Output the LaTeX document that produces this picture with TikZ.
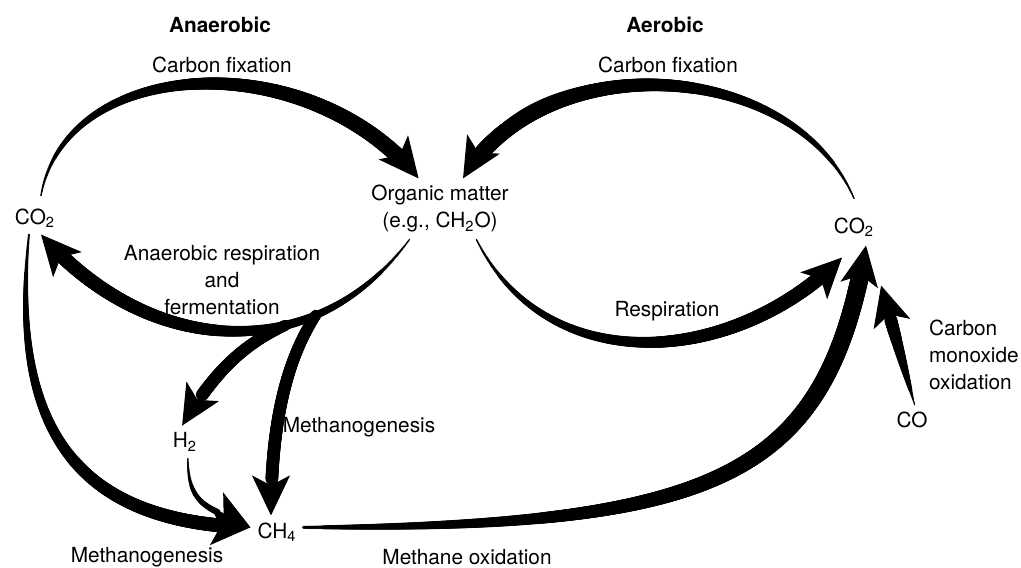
\documentclass[tikz,border=0pt]{standalone}
\usepackage{fontspec}
\setmainfont{TeX Gyre Heros}
\usetikzlibrary{arrows.meta,decorations.markings}

\tikzset{
  lbl/.style={font=\fontsize{10.4}{13.5}\selectfont, align=center},
  head/.style={font=\fontsize{10.4}{13.5}\selectfont\bfseries},
  flow/.style 2 args={
    line width=0.5pt,
    -{Stealth[length=20pt,width=19pt,inset=5pt]},
    postaction={decorate, decoration={markings,
      mark=between positions 0 and 1 step 0.5pt with {
        \pgfmathsetmacro\flowd{\pgfkeysvalueof{/pgf/decoration/mark info/distance from start}}
        \pgfmathsetmacro\flowl{\pgfdecoratedpathlength}
        \pgfmathsetmacro\flowf{\flowd/\flowl}
        \pgfmathsetmacro\flowr{#1+(#2-#1)*(1-(1-\flowf)^2)}
        \pgfmathparse{\flowl-\flowd>18 ? 1 : 0}
        \ifnum\pgfmathresult=1 \fill (0,0) circle (\flowr pt);\fi}}}
  }
}

\begin{document}
\begin{tikzpicture}[x=0.5pt,y=0.5pt]
    \useasboundingbox (0,0) rectangle (1021,567);

    % Headings
    \node[head] (anaer) at (220,542) {Anaerobic};
    \node[head] (aer) at (665,542) {Aerobic};

    % Pools
    \node[lbl] (co2l) at (35,349) {CO\textsubscript{2}};
    \node[lbl] (org) at (440,358) {Organic matter\\(e.g., CH\textsubscript{2}O)};
    \node[lbl] (co2r) at (854,340) {CO\textsubscript{2}};
    \node[lbl] (h2) at (185,125) {H\textsubscript{2}};
    \node[lbl] (ch4) at (277,35) {CH\textsubscript{4}};
    \node[lbl] (co) at (912,147) {CO};

    % Carbon fixation
    \draw[flow={0.4}{4}] ([yshift=3pt]co2l.70) .. controls +(25,140) and +(-110,135) .. (org.125);
    \draw[flow={0.4}{4}] ([yshift=6pt]co2r.north) .. controls +(-60,140) and +(80,135) .. (org.53);

    % Anaerobic side
    \draw[flow={0.4}{3.6}] (org.225) .. controls +(-95,-128) and +(108,-123) .. (co2l.-70)
        coordinate[pos=0.28] (forkm) coordinate[pos=0.36] (forkh);
    \draw[flow={2.8}{3.2}] (forkh) .. controls +(-45,-20) and +(30,50) .. (h2.100);
    \draw[flow={2.8}{3.2}] (forkm) .. controls +(-30,-45) and +(0,90) .. (ch4.110);
    \draw[flow={0.5}{3.5}] (co2l.-110) .. controls +(-20,-200) and +(-170,5) .. (ch4.170);
    \draw[flow={0.3}{1.8}] (h2.-80) .. controls +(0,-50) and +(-40,20) .. (ch4.170);

    % Aerobic side
    \draw[flow={0.4}{3.6}] (org.-40) .. controls +(70,-140) and +(-110,-110) .. ([xshift=-6pt,yshift=-7pt]co2r.south);
    \draw[flow={0.8}{4.5}] (ch4.10) .. controls +(420,0) and +(-40,-230) .. ([xshift=6pt,yshift=-1pt]co2r.south);
    \draw[flow={0.2}{3.5}] (co.80) -- ([yshift=-21pt]co2r.south east);

    % Process labels
    \node[lbl] (cfixl) at (222,502) {Carbon fixation};
    \node[lbl] (cfixr) at (668,502) {Carbon fixation};
    \node[lbl] (anresp) at (222,287) {Anaerobic respiration\\and\\fermentation};
    \node[lbl] (resp) at (667,256) {Respiration};
    \node[lbl] (methv) at (359,140) {Methanogenesis};
    \node[lbl] (methb) at (147,10) {Methanogenesis};
    \node[lbl] (mox) at (467,10) {Methane oxidation};
    \node[lbl, align=left, anchor=west] (comox) at (922,212) {Carbon\\monoxide\\oxidation};
\end{tikzpicture}
\end{document}
